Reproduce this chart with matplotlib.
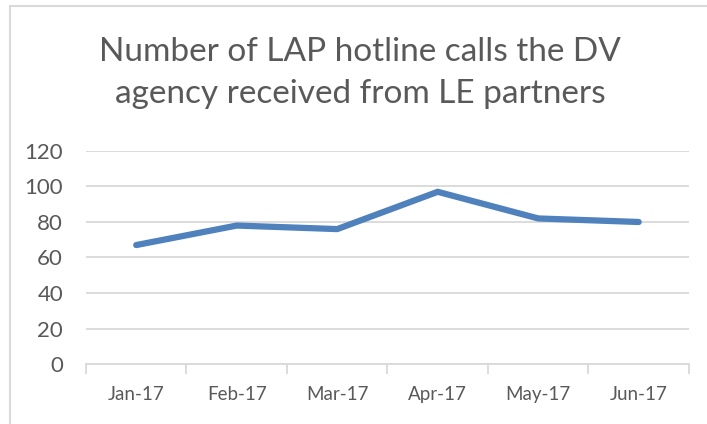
import matplotlib
matplotlib.use("Agg")
import matplotlib.pyplot as plt
from matplotlib.patches import Rectangle

months = ["Jan-17", "Feb-17", "Mar-17", "Apr-17", "May-17", "Jun-17"]
calls = [67, 78, 76, 97, 82, 80]
y_ticks = [0, 20, 40, 60, 80, 100, 120]

plt.rcParams['font.family'] = ['Lato', 'DejaVu Sans']
text_color = '#595959'
grid_color = '#d9d9d9'

fig = plt.figure(figsize=(7.07, 4.24), dpi=100)
ax = fig.add_axes([0.1216, 0.1415, 0.8529, 0.5024])

# chart border, runs off the right and bottom edges
fig.patches.append(Rectangle((10 / 707, -0.1), 1.2, 1 - 6 / 424 + 0.1,
                             transform=fig.transFigure, fill=False,
                             edgecolor=grid_color, linewidth=1.5))

x = range(len(months))
ax.plot(x, calls, color='#4f81bd', linewidth=4.5, solid_capstyle='round',
        solid_joinstyle='round', zorder=3)

ax.set_xlim(-0.5, len(months) - 0.5)
ax.set_ylim(0, 120)
ax.set_yticks(y_ticks)
ax.set_xticks(list(x))
ax.set_xticklabels(months)
ax.yaxis.grid(True, color=grid_color, linewidth=1.3)
ax.set_axisbelow(True)

for s in ['top', 'right', 'left']:
    ax.spines[s].set_visible(False)
ax.spines['bottom'].set_color(grid_color)
ax.spines['bottom'].set_linewidth(1.3)

ax.tick_params(axis='y', length=0, pad=16.5, labelsize=16, labelcolor=text_color)
ax.tick_params(axis='x', which='major', length=0, pad=16, labelsize=13.5,
               labelcolor=text_color)
ax.set_xticks([i - 0.5 for i in range(len(months) + 1)], minor=True)
ax.tick_params(axis='x', which='minor', length=7, color=grid_color, width=1.3)

fig.text(0.509, 0.828, "Number of LAP hotline calls the DV\nagency received from LE partners",
         ha='center', va='center', fontsize=24, color=text_color, linespacing=1.48)

fig.savefig("out.png", dpi=100)
